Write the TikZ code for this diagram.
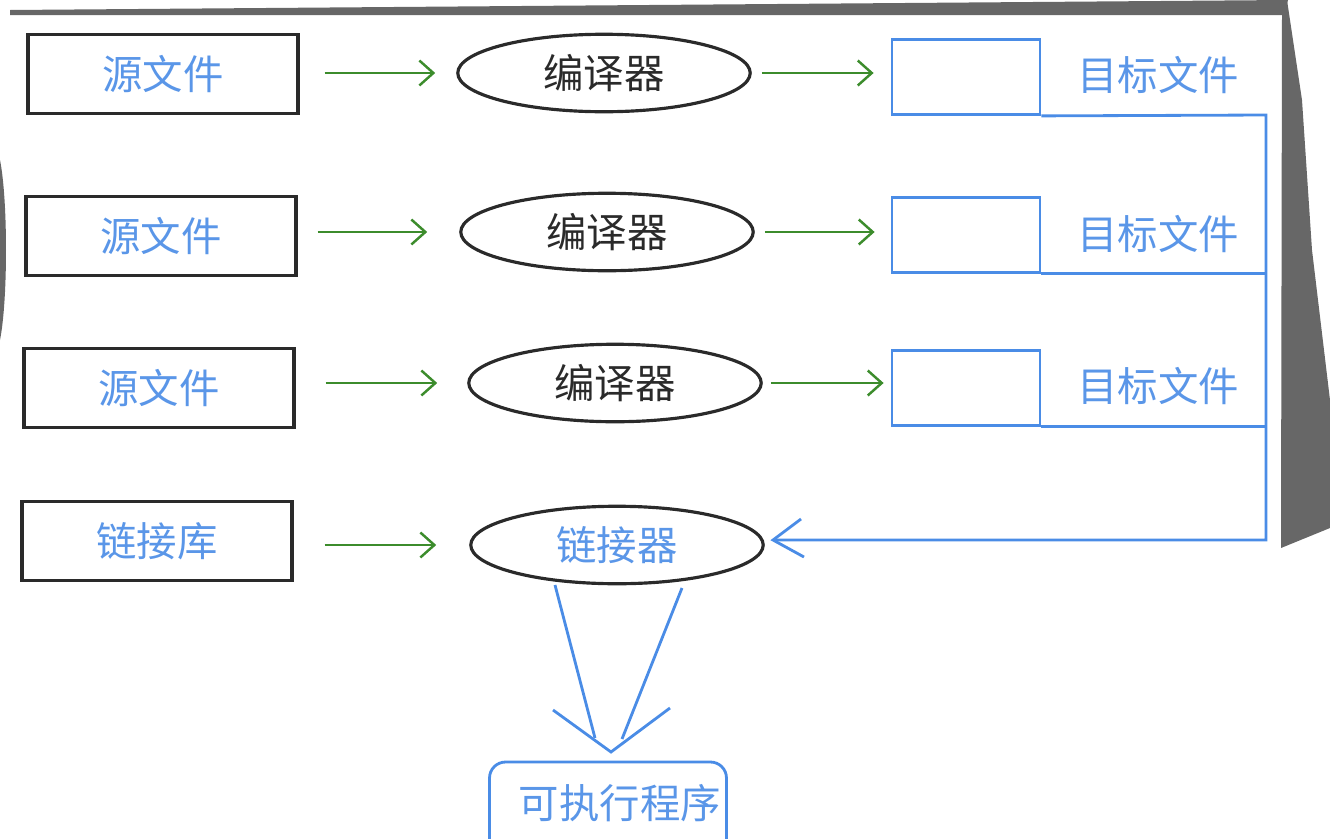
\documentclass[tikz,border=0pt]{standalone}
\usepackage{fontspec}
\newfontfamily\cjk{Noto Sans CJK SC}
\usetikzlibrary{shapes.geometric,arrows.meta}
\definecolor{bl}{HTML}{4A8CE6}
\definecolor{bltxt}{HTML}{5A96E8}
\definecolor{gr}{HTML}{3C8C2C}
\definecolor{fr}{HTML}{676767}
\definecolor{ink}{HTML}{2A2A2A}
\begin{document}
\begin{tikzpicture}[x=0.02cm,y=-0.02cm,
  cjkfont/.style={font=\cjk\fontsize{23}{26}\selectfont},
  srcbox/.style={draw=ink, line width=1.8pt, minimum width=5.4cm, minimum height=1.58cm, inner sep=0, text=bltxt, cjkfont},
  proc/.style={ellipse, draw=ink, line width=1.8pt, minimum width=5.85cm, minimum height=1.55cm, inner sep=0, text=ink, cjkfont},
  objbox/.style={draw=bl, line width=1.6pt, minimum width=2.96cm, minimum height=1.5cm, inner sep=0},
  btext/.style={text=bltxt, cjkfont, inner sep=0},
  garrow/.style={draw=gr, line width=1.4pt, -{Straight Barb[length=0.28cm, width=0.5cm, line width=1.4pt]}},
  bline/.style={draw=bl, line width=1.6pt},
  exebox/.style={draw=bl, line width=1.6pt, rounded corners=0.32cm, minimum width=4.74cm, minimum height=2.2cm, inner sep=0}
]
\useasboundingbox (0,0) rectangle (1330,839);
\clip (0,0) rectangle (1330,839);
% screenshot frame remnants
\fill[fr] (10,10) -- (1288,0) -- (1284,15) -- (10,15) -- cycle;
\fill[fr] (1282,15) -- (1287,0) -- (1302,100) -- (1312,250) -- (1330,400) -- (1330,528) -- (1281,548) -- cycle;
\fill[fr] (0,160) .. controls (8,200) and (8,300) .. (0,340) -- cycle;

% row 1
\node[srcbox] (s1) at (163,74) {源文件};
\node[proc] (c1) at (604,73) {编译器};
\node[objbox] (t1) at (966,77) {};
\node[btext] (l1) at (1158,75) {目标文件};
% row 2
\node[srcbox] (s2) at (161,236) {源文件};
\node[proc] (c2) at (607,232) {编译器};
\node[objbox] (t2) at (966,235) {};
\node[btext] (l2) at (1158,234) {目标文件};
% row 3
\node[srcbox] (s3) at (159,388) {源文件};
\node[proc] (c3) at (615,383) {编译器};
\node[objbox] (t3) at (966,388) {};
\node[btext] (l3) at (1158,386) {目标文件};
% row 4
\node[srcbox] (s4) at (157,541) {链接库};
\node[proc, text=bltxt] (lnk) at (617,545) {链接器};
% executable
\node[exebox] (exe) at (608,817) {};
\node[btext] (exel) at (620,803) {可执行程序};

% green arrows (horizontal)
\draw[garrow, shorten <=0.5cm, shorten >=0.42cm] (s1.east |- c1) -- (c1.west);
\draw[garrow, shorten <=0.4cm, shorten >=0.64cm] (s2.east |- c2) -- (c2.west);
\draw[garrow, shorten <=0.6cm, shorten >=0.6cm] (s3.east |- c3) -- (c3.west);
\draw[garrow, shorten <=0.62cm, shorten >=0.66cm] (s4.east |- lnk) -- (lnk.west);
\draw[garrow, shorten <=0.2cm, shorten >=0.34cm] (c1.east) -- (c1.east -| t1.west);
\draw[garrow, shorten <=0.2cm, shorten >=0.32cm] (c2.east) -- (c2.east -| t2.west);
\draw[garrow, shorten <=0.16cm, shorten >=0.14cm] (c3.east) -- (c3.east -| t3.west);

% bus to linker
\coordinate (bus1) at (1266,115);
\coordinate (bus4) at (1266,540);
\coordinate (ah) at (773,540);
\draw[bline] (t1.south east) -- (bus1) -- (bus4) -- (ah);
\draw[bline] (t2.south east) -- (t2.south east -| bus1);
\draw[bline] (t3.south east) -- (t3.south east -| bus1);
\draw[bline, line join=miter] (801,519) -- (ah) -- (804,557);

% funnel to executable
\coordinate (fl) at (555,585);
\coordinate (fr1) at (682,588);
\coordinate (tip) at (611,752);
\draw[bline] (fl) -- (595,738);
\draw[bline] (fr1) -- (622,739);
\draw[bline, line join=miter] (553,710) -- (tip) -- (670,708);
\end{tikzpicture}
\end{document}
